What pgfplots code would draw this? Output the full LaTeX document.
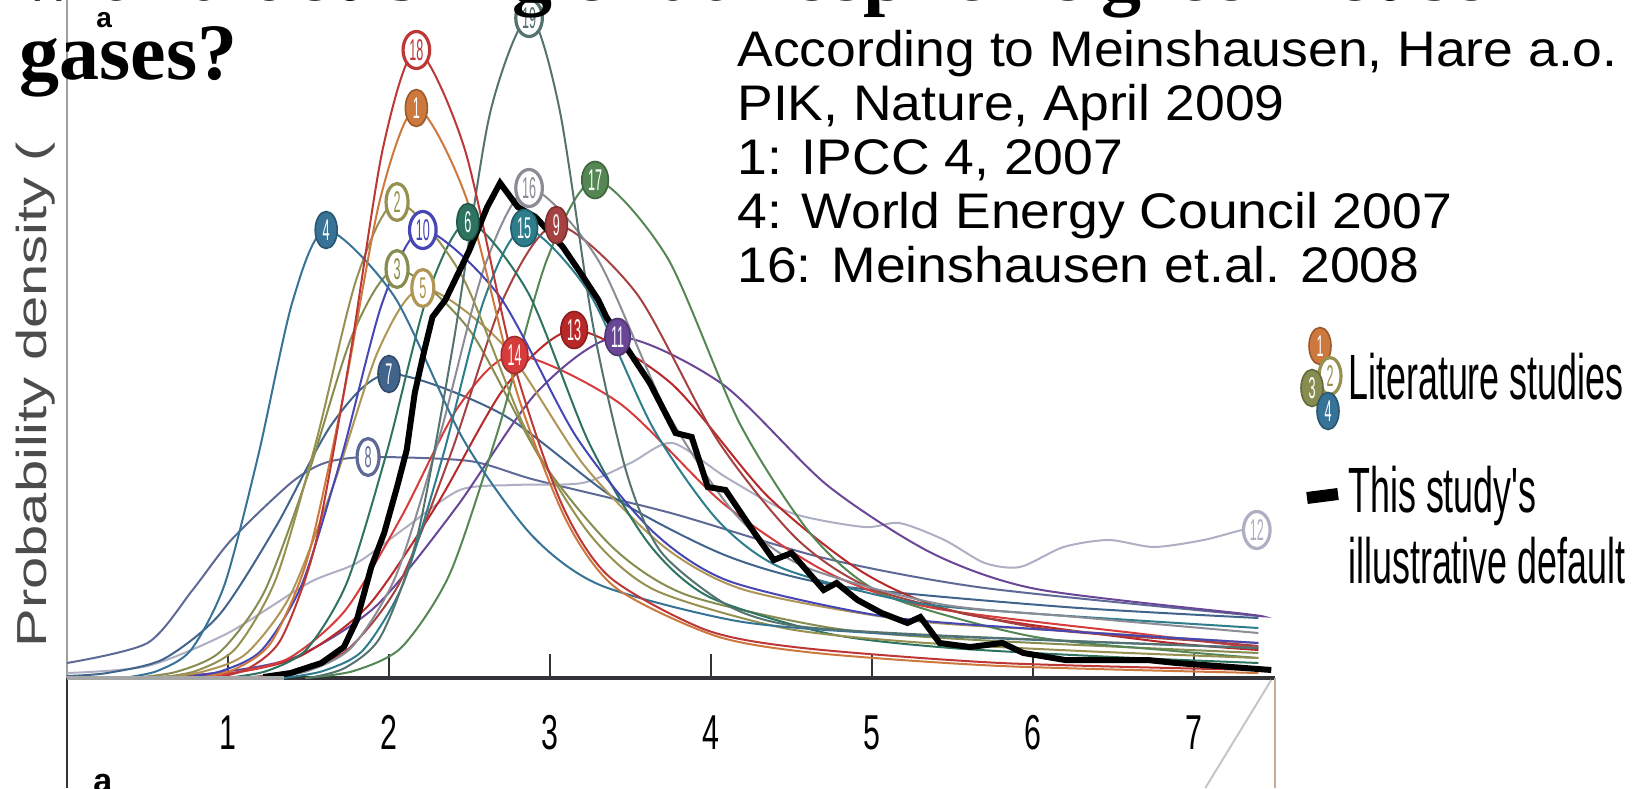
\documentclass[border=0pt]{standalone}
\usepackage{pgfplots}
\pgfplotsset{compat=1.18}
\usepackage{fontspec}
\usetikzlibrary{shapes.geometric}
\setmainfont{Liberation Sans}
\newfontfamily\titlefont{Liberation Serif}
\newfontfamily\notefont[FakeStretch=1.07]{Liberation Sans}
\newfontfamily\ylabfont[FakeStretch=1.38]{Liberation Sans}
\newfontfamily\tickfont[FakeStretch=0.62]{Liberation Sans}
\newfontfamily\narrowfont[FakeStretch=0.56]{Liberation Sans}
\newfontfamily\numfont[FakeStretch=0.42]{Liberation Sans}

\definecolor{red18}{RGB}{190,55,55}
\definecolor{orange1}{RGB}{205,120,60}
\definecolor{topgreen}{RGB}{85,115,110}
\definecolor{teal4}{RGB}{55,115,150}
\definecolor{olive2}{RGB}{150,145,80}
\definecolor{blue10}{RGB}{70,70,180}
\definecolor{green6}{RGB}{45,115,95}
\definecolor{gray16}{RGB}{140,140,150}
\definecolor{teal15}{RGB}{45,125,140}
\definecolor{brown9}{RGB}{165,65,65}
\definecolor{green17}{RGB}{85,135,85}
\definecolor{olive3}{RGB}{135,140,80}
\definecolor{tan5}{RGB}{175,150,85}
\definecolor{slate7}{RGB}{65,100,140}
\definecolor{grayblue8}{RGB}{95,105,150}
\definecolor{red14}{RGB}{215,60,60}
\definecolor{red13}{RGB}{185,40,40}
\definecolor{purple11}{RGB}{105,70,150}
\definecolor{lgray12}{RGB}{175,175,195}
\definecolor{axisdark}{RGB}{50,50,55}
\definecolor{tanline}{RGB}{200,170,150}

\tikzset{
  labfilled/.style={ellipse, fill=#1, draw=#1!75!black, line width=0.8pt, text=white,
    font=\numfont\fontsize{15pt}{15pt}\selectfont, inner xsep=1.2pt, inner ysep=0pt,
    minimum width=11pt, minimum height=18.5pt, anchor=center},
  labring/.style={ellipse, fill=white, draw=#1, line width=1.6pt, text=#1,
    font=\numfont\fontsize{15pt}{15pt}\selectfont, inner xsep=1.2pt, inner ysep=0pt,
    minimum width=11pt, minimum height=18.5pt, anchor=center},
}
\pgfplotsset{
  pdf/.style={color=#1, line width=1pt, smooth, tension=0.45, mark=none},
  tagf/.style={draw=none, mark=none, point meta=explicit symbolic, nodes near coords,
    every node near coord/.style={labfilled=#1}},
  tagr/.style={draw=none, mark=none, point meta=explicit symbolic, nodes near coords,
    every node near coord/.style={labring=#1}},
}

\begin{document}
\begin{tikzpicture}
\path[use as bounding box] (0,0) rectangle (818.5pt,394pt);
\clip (0,0) rectangle (818.5pt,394pt);

\begin{axis}[
  at={(33.5pt,0pt)}, anchor=south west,
  scale only axis, width=603.75pt, height=394pt,
  xmin=0, xmax=7.5, ymin=-1.10, ymax=6.78,
  clip=false,
  axis x line=middle, axis y line=left,
  axis line style={-},
  x axis line style={axisdark, line width=1.6pt},
  y axis line style={gray!75, line width=1.3pt},
  xtick={1,2,3,4,5,6,7}, ytick=\empty,
  tick align=inside, major tick length=12pt,
  xtick style={axisdark, line width=1.3pt},
  /pgf/number format/assume math mode=true,
  xticklabel style={font=\tickfont\fontsize{24.5pt}{26pt}\selectfont, text=black,
    anchor=base, yshift=-35.5pt, inner sep=0pt},
]
% literature PDFs of climate sensitivity
\addplot[pdf=grayblue8] coordinates {(0,0.15) (0.5,0.35) (0.78,0.88) (1.02,1.38) (1.39,1.95) (1.6,2.15) (1.87,2.21) (2.5,2.17) (2.91,1.98) (3.75,1.65) (4.7,1.20) (5.7,0.90) (7.4,0.62)};
\addplot[pdf=lgray12] coordinates {(0,0.05) (0.5,0.12) (1.0,0.45) (1.5,0.95) (1.8,1.15) (2.1,1.5) (2.44,1.88) (2.77,1.93) (3.2,1.95) (3.5,2.15) (3.76,2.35) (4.1,2.0) (4.5,1.65) (4.95,1.51) (5.17,1.55) (5.45,1.38) (5.70,1.15) (5.92,1.11) (6.19,1.31) (6.47,1.38) (6.75,1.31) (7.06,1.38) (7.30,1.48) (7.39,1.48)};
\addplot[pdf=slate7] coordinates {(0,0.02) (0.25,0.05) (0.6,0.19) (0.95,0.64) (1.3,1.52) (1.65,2.55) (2.0,3.04) (2.70,2.64) (3.40,1.80) (4.10,1.22) (4.80,0.92) (6.20,0.71) (7.4,0.60)};
\addplot[pdf=purple11] coordinates {(0.42,0) (0.92,0.05) (1.42,0.21) (1.92,0.72) (2.42,1.71) (2.92,2.86) (3.42,3.41) (4.07,2.94) (4.72,1.93) (5.37,1.25) (6.02,0.89) (7.32,0.64) (7.4,0.62)};
\addplot[pdf=red13] coordinates {(0.60,0) (1.03,0.05) (1.45,0.22) (1.875,0.73) (2.30,1.74) (2.725,2.92) (3.15,3.48) (3.75,2.95) (4.35,1.82) (4.95,1.05) (5.55,0.65) (6.75,0.37) (7.4,0.28)};
\addplot[pdf=red14] coordinates {(0.68,0) (1.03,0.05) (1.38,0.20) (1.73,0.68) (2.08,1.62) (2.43,2.71) (2.78,3.23) (3.43,2.75) (4.08,1.74) (4.73,1.05) (5.38,0.70) (6.68,0.44) (7.4,0.30)};
\addplot[pdf=tan5] coordinates {(0.56,0) (0.835,0.06) (1.11,0.24) (1.385,0.82) (1.66,1.95) (1.935,3.28) (2.21,3.90) (2.71,3.33) (3.21,2.13) (3.71,1.31) (4.21,0.88) (5.21,0.58) (6.21,0.47) (7.4,0.35)};
\addplot[pdf=olive3] coordinates {(0.40,0) (0.675,0.06) (0.95,0.26) (1.225,0.86) (1.50,2.05) (1.775,3.44) (2.05,4.09) (2.50,3.48) (2.95,2.17) (3.40,1.29) (3.85,0.83) (4.75,0.50) (5.65,0.38) (7.4,0.25)};
\addplot[pdf=green17] coordinates {(1.48,0) (1.78,0.07) (2.08,0.31) (2.38,1.05) (2.68,2.49) (2.98,4.18) (3.28,4.98) (3.73,4.20) (4.18,2.54) (4.63,1.42) (5.08,0.83) (5.98,0.42) (6.88,0.27) (7.4,0.20)};
\addplot[pdf=brown9] coordinates {(1.09,0) (1.415,0.07) (1.74,0.28) (2.065,0.95) (2.39,2.27) (2.715,3.81) (3.04,4.53) (3.54,3.84) (4.04,2.38) (4.54,1.38) (5.04,0.87) (6.04,0.50) (7.04,0.37) (7.4,0.32)};
\addplot[pdf=teal15] coordinates {(1.34,0) (1.59,0.07) (1.84,0.28) (2.09,0.95) (2.34,2.25) (2.59,3.78) (2.84,4.50) (3.24,3.86) (3.64,2.50) (4.04,1.58) (4.44,1.10) (5.24,0.76) (6.04,0.64) (7.4,0.50)};
\addplot[pdf=gray16] coordinates {(1.22,0) (1.495,0.07) (1.77,0.31) (2.045,1.03) (2.32,2.45) (2.595,4.12) (2.87,4.90) (3.295,4.19) (3.72,2.68) (4.145,1.65) (4.57,1.12) (5.42,0.74) (6.27,0.61) (7.4,0.45)};
\addplot[pdf=green6] coordinates {(0.99,0) (1.24,0.07) (1.49,0.29) (1.74,0.96) (1.99,2.28) (2.24,3.83) (2.49,4.56) (2.865,3.85) (3.24,2.36) (3.615,1.34) (3.99,0.81) (4.74,0.44) (5.49,0.30) (6.5,0.21) (7.4,0.15)};
\addplot[pdf=blue10] coordinates {(0.71,0) (0.96,0.07) (1.21,0.28) (1.46,0.94) (1.71,2.24) (1.96,3.76) (2.21,4.48) (2.685,3.82) (3.16,2.42) (3.635,1.47) (4.11,0.97) (5.06,0.62) (6.01,0.49) (7.4,0.35)};
\addplot[pdf=olive2] coordinates {(0.55,0) (0.80,0.07) (1.05,0.30) (1.30,1.00) (1.55,2.38) (1.80,4.00) (2.05,4.76) (2.45,4.03) (2.85,2.48) (3.25,1.43) (3.65,0.88) (4.45,0.50) (5.25,0.36) (6.3,0.27) (7.4,0.20)};
\addplot[pdf=teal4] coordinates {(0.35,0) (0.56,0.07) (0.77,0.28) (0.98,0.94) (1.19,2.24) (1.40,3.76) (1.61,4.48) (2.035,3.81) (2.46,2.39) (2.885,1.43) (3.31,0.93) (4.16,0.57) (5.01,0.45) (6.2,0.37) (7.4,0.30)};
\addplot[pdf=topgreen] coordinates {(1.50,0) (1.725,0.10) (1.95,0.42) (2.175,1.41) (2.40,3.35) (2.625,5.63) (2.87,6.62) (3.06,5.68) (3.27,3.50) (3.48,2.03) (3.69,1.26) (4.11,0.72) (4.53,0.52) (5.5,0.42) (7.4,0.30)};
\addplot[pdf=orange1] coordinates {(0.82,0) (1.045,0.09) (1.27,0.36) (1.495,1.20) (1.72,2.85) (1.945,4.79) (2.17,5.70) (2.48,4.80) (2.79,2.88) (3.10,1.58) (3.41,0.90) (4.03,0.42) (4.65,0.25) (5.8,0.12) (7.4,0.05)};
\addplot[pdf=red18] coordinates {(0.91,0) (1.12,0.09) (1.33,0.39) (1.54,1.32) (1.75,3.14) (1.96,5.28) (2.17,6.28) (2.47,5.29) (2.77,3.18) (3.07,1.75) (3.37,1.01) (3.97,0.48) (4.57,0.30) (5.8,0.15) (7.4,0.08)};

% this study's illustrative default
\addplot[black, line width=3pt, line join=miter, mark=none] coordinates {(1.22,0.01) (1.39,0.05) (1.58,0.15) (1.72,0.31) (1.80,0.58) (1.89,1.11) (1.97,1.45) (2.05,1.91) (2.11,2.28) (2.16,2.85) (2.22,3.28) (2.27,3.61) (2.35,3.78) (2.50,4.28) (2.61,4.71) (2.69,4.95) (2.80,4.71) (2.91,4.61) (3.08,4.31) (3.19,4.05) (3.30,3.78) (3.35,3.61) (3.62,2.95) (3.78,2.45) (3.88,2.41) (3.98,1.91) (4.09,1.88) (4.27,1.45) (4.39,1.18) (4.50,1.25) (4.70,0.88) (4.78,0.95) (4.91,0.78) (5.06,0.65) (5.22,0.55) (5.30,0.61) (5.42,0.35) (5.61,0.31) (5.81,0.35) (5.94,0.25) (6.20,0.18) (6.71,0.18) (6.89,0.15) (7.23,0.11) (7.48,0.08)};

% numbered tags at the modes
\addplot[tagr=grayblue8] coordinates {(1.87,2.21) [8]};
\addplot[tagr=lgray12] coordinates {(7.39,1.48) [12]};
\addplot[tagf=slate7] coordinates {(2.0,3.04) [7]};
\addplot[tagf=purple11] coordinates {(3.42,3.41) [11]};
\addplot[tagf=red13] coordinates {(3.15,3.48) [13]};
\addplot[tagf=red14] coordinates {(2.78,3.23) [14]};
\addplot[tagr=tan5] coordinates {(2.21,3.90) [5]};
\addplot[tagr=olive3] coordinates {(2.05,4.09) [3]};
\addplot[tagf=green17] coordinates {(3.28,4.98) [17]};
\addplot[tagf=brown9] coordinates {(3.04,4.53) [9]};
\addplot[tagf=teal15] coordinates {(2.84,4.50) [15]};
\addplot[tagr=gray16] coordinates {(2.87,4.90) [16]};
\addplot[tagf=green6] coordinates {(2.49,4.56) [6]};
\addplot[tagr=blue10] coordinates {(2.21,4.48) [10]};
\addplot[tagr=olive2] coordinates {(2.05,4.76) [2]};
\addplot[tagf=teal4] coordinates {(1.61,4.48) [4]};
\addplot[tagr=topgreen] coordinates {(2.87,6.60) [19]};
\addplot[tagf=orange1] coordinates {(2.17,5.70) [1]};
\addplot[tagr=red18] coordinates {(2.17,6.28) [18]};

% axis details below the baseline
\draw[axisdark, line width=1.3pt] (axis cs:0,-1.10) -- (axis cs:0,0);
\draw[gray!70, line width=1.6pt] (axis cs:0,0) -- (axis cs:1.35,0);
\draw[tanline, line width=1pt] (axis cs:7.5,0) -- (axis cs:7.5,-1.10);
\draw[gray!45, line width=1pt] (axis cs:7.07,-1.10) -- (axis cs:7.48,-0.02);
\end{axis}

% y label
\node[rotate=90, anchor=base west, inner sep=0pt, text=black!70,
  font=\ylabfont\fontsize{21pt}{21pt}\selectfont] at (23.5pt,70pt) {Probability density (};

% source note
\begin{scope}[every node/.style={anchor=base west, inner sep=0pt,
    font=\notefont\fontsize{25pt}{27pt}\selectfont}]
\node at (368.5pt,360.5pt) {According to Meinshausen, Hare a.o.};
\node at (368.5pt,333.5pt) {PIK, Nature, April 2009};
\node at (368.5pt,306.5pt) {1: IPCC 4, 2007};
\node at (368.5pt,279.5pt) {4: World Energy Council 2007};
\node at (368.5pt,252.5pt) {16: Meinshausen et.al. 2008};
\end{scope}

% legend
\node[labfilled=orange1] at (660pt,221pt) {1};
\node[labring=olive2] at (665pt,206pt) {2};
\node[labfilled=olive3] at (656pt,200pt) {3};
\node[labfilled=teal4] at (664pt,188.5pt) {4};
\node[anchor=base west, inner sep=0pt, font=\narrowfont\fontsize{32pt}{32pt}\selectfont]
  at (674pt,194pt) {Literature studies};
\draw[black, line width=6pt] (653.5pt,145pt) -- (669pt,147pt);
\node[anchor=base west, inner sep=0pt, font=\narrowfont\fontsize{32pt}{32pt}\selectfont]
  at (674pt,138pt) {This study's};
\node[anchor=base west, inner sep=0pt, font=\narrowfont\fontsize{32pt}{32pt}\selectfont]
  at (674pt,102.5pt) {illustrative default};

% panel letters
\node[anchor=base west, inner sep=0pt, font=\bfseries\fontsize{14pt}{14pt}\selectfont] at (48pt,380pt) {a};
\node[anchor=base west, inner sep=0pt, font=\bfseries\fontsize{17pt}{17pt}\selectfont] at (46.5pt,-2pt) {a};

% slide title
\node[anchor=base west, inner sep=0pt, font=\titlefont\bfseries\fontsize{40pt}{40pt}\selectfont]
  at (9.5pt,393.5pt) {with a doubling of atmospheric greenhouse};
\node[anchor=base west, inner sep=0pt, font=\titlefont\bfseries\fontsize{40pt}{40pt}\selectfont]
  at (9.5pt,354pt) {gases?};
\end{tikzpicture}
\end{document}
